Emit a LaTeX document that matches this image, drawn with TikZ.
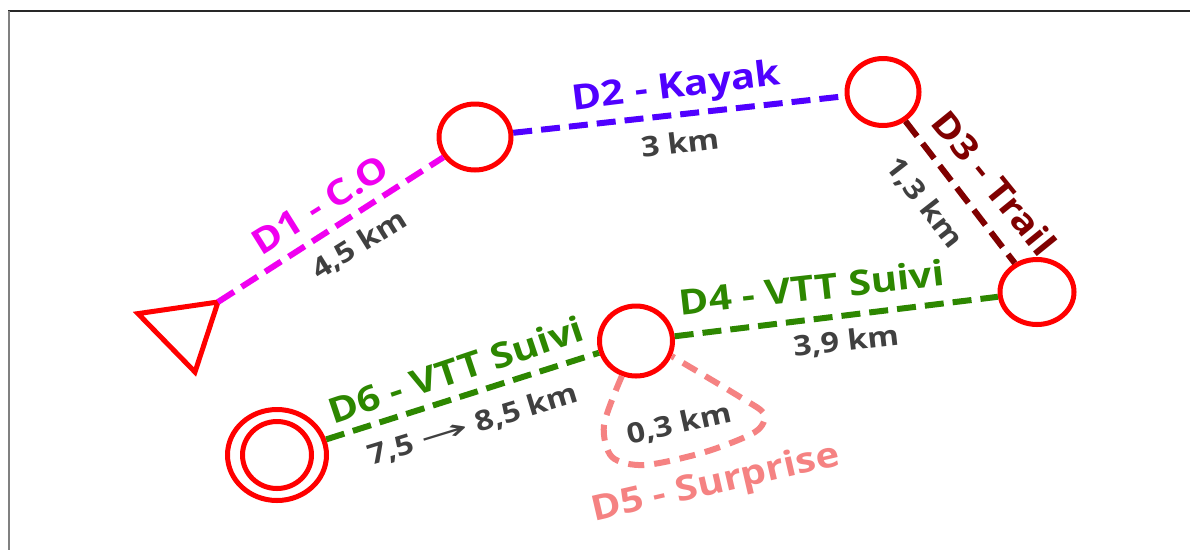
\documentclass[tikz,border=0pt]{standalone}
\usepackage{fontspec}
\usepackage{graphicx}
\setmainfont[FakeStretch=1.15]{Open Sans}
\newfontfamily\arrowfont{DejaVu Sans}
\usetikzlibrary{shapes.geometric}
\definecolor{cmag}{RGB}{240,0,240}
\definecolor{cblue}{RGB}{80,0,255}
\definecolor{cdred}{RGB}{128,0,0}
\definecolor{cgreen}{RGB}{45,135,0}
\definecolor{cpink}{RGB}{245,130,130}
\definecolor{cgray}{RGB}{64,64,64}
\definecolor{cred}{RGB}{255,0,0}
\definecolor{cframe}{RGB}{40,40,40}
\begin{document}
\begin{tikzpicture}[x=1pt,y=-1pt,
  ctrl/.style={draw=cred, line width=5pt, ellipse, inner sep=0pt, minimum width=72pt, minimum height=66pt},
  leg/.style={line width=6pt, dash pattern=on 19pt off 9pt},
  title/.style={font=\bfseries\fontsize{35}{40}\selectfont, inner sep=0pt, text height=25pt, text depth=0pt},
  dist/.style={font=\bfseries\fontsize{28}{32}\selectfont, text=cgray, inner sep=0pt, text height=20pt, text depth=0pt}]
\useasboundingbox (0,0) rectangle (1190,550);
\fill[white] (0,0) rectangle (1190,550);
\draw[line width=1.5pt, cframe] (8,11) -- (1190,11);
\draw[line width=2pt, gray] (8.5,11) -- (8.5,550);
% controls
\node[ctrl] (c1) at (475,137) {};
\node[ctrl, minimum width=72pt, minimum height=67pt] (c2) at (883,92) {};
\node[ctrl, minimum width=74pt, minimum height=65pt] (c3) at (1037,292) {};
\node[ctrl, minimum width=73pt, minimum height=70pt] (c4) at (636,341) {};
\node[ctrl, minimum width=99pt, minimum height=91pt] (finish) at (277,455) {};
\node[ctrl, minimum width=69pt, minimum height=67pt] (finishin) at (finish.center) {};
% start triangle
\coordinate (start) at (218,302);
\coordinate (tl) at (138,313.6);
\coordinate (tb) at (195,372);
\draw[draw=cred, line width=5pt, line join=miter] (start) -- (tl) -- (tb) -- cycle;
% legs
\draw[leg, cmag] (start) -- (c1);
\draw[leg, cblue] (c1) -- (c2);
\draw[leg, cdred] (c2) -- (c3);
\draw[leg, cgreen] (c4) -- (c3);
\draw[leg, cgreen] (finish) -- (c4);
\draw[leg, cpink, dash pattern=on 16pt off 10pt] plot[smooth] coordinates {(c4.248) (604,425) (612,457) (645,465) (705,452) (755,432) (764,414) (740,397) (c4.337)};
% labels
\node[title, text=cmag, rotate=32] (l1) at (320,205) {D1 - C.O};
\node[dist, rotate=32] (k1) at (359,244) {4,5 km};
\node[title, text=cblue, rotate=7] (l2) at (676,85) {D2 - Kayak};
\node[dist, rotate=7] (k2) at (680,143) {3 km};
\node[title, text=cdred, rotate=-51] (l3) at (994,183) {D3 - Trail};
\node[dist, rotate=-52] (k3) at (925,202) {1,3 km};
\node[title, text=cgreen, rotate=6.4] (l4) at (812,288) {D4 - VTT Suivi};
\node[dist, rotate=6.4] (k4) at (846,341) {3,9 km};
\node[title, text=cgreen, rotate=18.5] (l6) at (456,370) {D6 - VTT Suivi};
\node[dist, rotate=17] (k6) at (473,424) {7,5 \scalebox{2.1}[1]{\arrowfont\mdseries →} 8,5 km};
\node[dist, rotate=12.5] (k5) at (679,423) {0,3 km};
\node[title, text=cpink, rotate=13] (l5) at (715,481) {D5 - Surprise};
\end{tikzpicture}
\end{document}
